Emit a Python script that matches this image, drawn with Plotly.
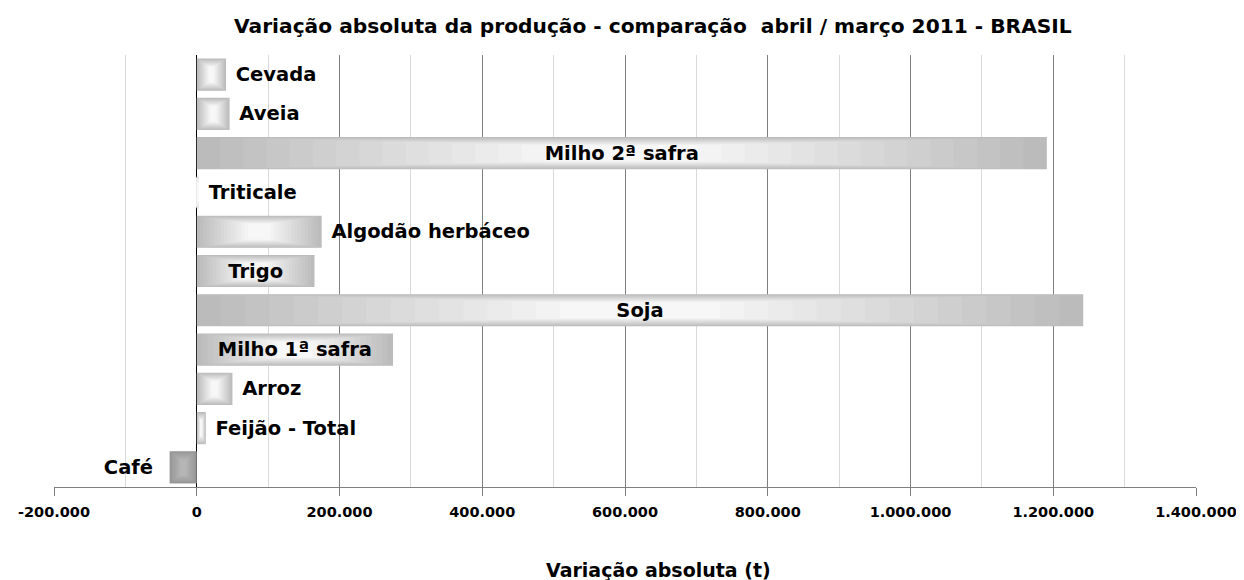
import plotly.graph_objects as go

# ---- data ----
culturas = ["Cevada", "Aveia", "Milho 2ª safra", "Triticale", "Algodão herbáceo",
            "Trigo", "Soja", "Milho 1ª safra", "Arroz", "Feijão - Total", "Café"]
variacao = [41000, 46000, 1191000, 3000, 175000, 165000, 1242000, 275000, 50000, 12500, -38000]
posicao_texto = ["outside", "outside", "inside", "outside", "outside",
                 "inside", "inside", "inside", "outside", "outside", "outside"]
x_ticks = [-200000, 0, 200000, 400000, 600000, 800000, 1000000, 1200000, 1400000]
x_tick_labels = ["-200.000", "0", "200.000", "400.000", "600.000", "800.000",
                 "1.000.000", "1.200.000", "1.400.000"]
titulo = "Variação absoluta da produção - comparação  abril / março 2011 - BRASIL"
titulo_x = "Variação absoluta (t)"

# ---- styling (gradient simulated by nested bars) ----
N = 16
FONT = "DejaVu Sans"

def lerp_gray(a, b, t):
    v = round(a + (b - a) * t)
    return f"rgb({v},{v},{v})"

def layer_color(v, k):
    t = k / (N - 1)
    if v < 0:
        return lerp_gray(150, 182, t)
    if abs(v) < 8000:
        return lerp_gray(228, 250, t)
    return lerp_gray(187, 247, t)

fig = go.Figure()
for k in range(N):
    t = k / (N - 1)
    f = 0.41 * t
    w = 0.82 - 0.42 * t
    fig.add_trace(go.Bar(
        y=culturas,
        x=[v * (1 - 2 * f) for v in variacao],
        base=[v * f for v in variacao],
        orientation="h",
        width=w,
        marker=dict(color=[layer_color(v, k) for v in variacao], line=dict(width=0)),
        hoverinfo="skip",
        showlegend=False,
    ))

# text layer
modelos = []
for v, p in zip(variacao, posicao_texto):
    if p == "inside":
        modelos.append("%{text}")
    elif v < 0:
        modelos.append("%{text}\u00a0\u00a0")
    else:
        modelos.append("\u00a0%{text}")

fig.add_trace(go.Bar(
    y=culturas,
    x=variacao,
    orientation="h",
    width=0.82,
    marker=dict(color="rgba(0,0,0,0)", line=dict(width=0)),
    text=culturas,
    texttemplate=modelos,
    textposition=posicao_texto,
    insidetextanchor="middle",
    constraintext="none",
    cliponaxis=False,
    textfont=dict(family=FONT, size=19.5, color="black", weight="bold"),
    hoverinfo="skip",
    showlegend=False,
))

# page has an 8px body margin, so the figure is 8px smaller than the window
fig.update_layout(
    width=1236, height=572,
    barmode="overlay",
    paper_bgcolor="white", plot_bgcolor="white",
    margin=dict(l=46, r=48, t=47, b=93),
    font=dict(family=FONT, color="black"),
    annotations=[
        dict(text=titulo, xref="paper", yref="paper", x=0.5245, y=1.067,
             xanchor="center", yanchor="middle", showarrow=False,
             font=dict(family=FONT, size=20.2, color="black", weight="bold")),
        dict(text=titulo_x, xref="paper", yref="paper", x=0.529, y=-0.192,
             xanchor="center", yanchor="middle", showarrow=False,
             font=dict(family=FONT, size=19, color="black", weight="bold")),
    ],
)
fig.update_xaxes(
    range=[-200000, 1400000],
    tickvals=x_ticks, ticktext=x_tick_labels,
    tickfont=dict(family=FONT, size=14.5, color="black", weight="bold"),
    showgrid=True, gridcolor="#7f7f7f", gridwidth=1,
    minor=dict(dtick=100000, tick0=0, showgrid=True, gridcolor="#d9d9d9", gridwidth=1),
    zeroline=True, zerolinecolor="black", zerolinewidth=1,
    showline=True, linecolor="#7f7f7f", linewidth=1,
    ticks="outside", ticklen=8, tickcolor="#7f7f7f",
    ticklabelstandoff=4,
    automargin=False,
)
fig.update_yaxes(
    categoryorder="array", categoryarray=culturas,
    autorange="reversed",
    showticklabels=False, showgrid=False, zeroline=False,
    automargin=False,
)

fig.write_html("out.html")
